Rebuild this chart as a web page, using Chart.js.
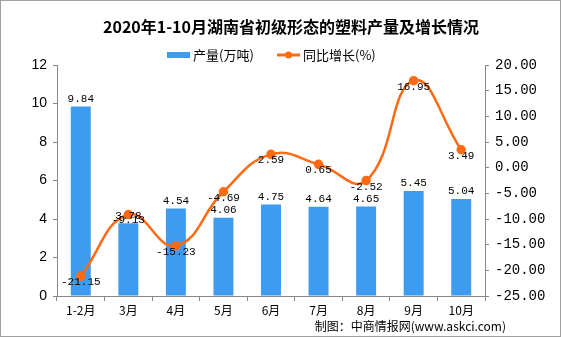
<!DOCTYPE html>
<html>
<head>
<meta charset="utf-8">
<script src="https://cdn.jsdelivr.net/npm/chart.js@4.4.0/dist/chart.umd.min.js"></script>
<style>
  html, body { margin: 0; padding: 0; background: #fff; }
  #wrap { position: relative; width: 561px; height: 337px; box-sizing: border-box; border: 1px solid #a0a0a0; }
  canvas { display: block; }
</style>
</head>
<body>
<div id="wrap"><canvas id="c" width="559" height="335"></canvas></div>
<script>
// ---------- DATA ----------
const months = ["1-2月","3月","4月","5月","6月","7月","8月","9月","10月"];
const output = [9.84, 3.78, 4.54, 4.06, 4.75, 4.64, 4.65, 5.45, 5.04];   // 产量(万吨)
const growth = [-21.15, -9.13, -15.23, -4.69, 2.59, 0.65, -2.52, 16.95, 3.49]; // 同比增长(%)

const BLUE = "#3d9cf0";
const ORANGE = "#ff6a13";
const TITLE = "2020年1-10月湖南省初级形态的塑料产量及增长情况";

// ---------- TITLE, LEGEND, LABELS ----------
const decor = {
  id: "decor",
  afterDatasetsDraw(chart){
    const ctx = chart.ctx;
    ctx.save();
    // title
    ctx.fillStyle = "#000";
    ctx.font = "bold 16px 'Noto Sans CJK SC'";
    ctx.textAlign = "center"; ctx.textBaseline = "middle";
    ctx.fillText(TITLE, 290, 26);

    // legend
    ctx.font = "13px 'Noto Sans CJK SC'";
    ctx.textAlign = "left";
    ctx.fillStyle = BLUE;
    ctx.fillRect(166, 51, 23, 6);
    ctx.fillStyle = "#000";
    ctx.fillText("产量(万吨)", 192, 54);
    ctx.strokeStyle = ORANGE; ctx.lineWidth = 3;
    ctx.beginPath(); ctx.moveTo(276, 54); ctx.lineTo(299, 54); ctx.stroke();
    ctx.fillStyle = ORANGE;
    ctx.beginPath(); ctx.arc(287.5, 54, 3.5, 0, Math.PI*2); ctx.fill();
    ctx.fillStyle = "#000";
    ctx.fillText("同比增长(%)", 302, 54);

    // bar value labels
    ctx.font = "11px 'Liberation Mono'";
    ctx.textAlign = "center"; ctx.textBaseline = "bottom";
    chart.getDatasetMeta(0).data.forEach((bar, i) => {
      ctx.fillText(output[i].toFixed(2), bar.x, bar.y - 2);
    });
    // line value labels
    ctx.textBaseline = "middle";
    chart.getDatasetMeta(1).data.forEach((pt, i) => {
      ctx.fillText(growth[i].toFixed(2), pt.x, pt.y + 6);
    });

    // source
    ctx.font = "12px 'Noto Sans CJK SC'";
    ctx.textAlign = "right";
    ctx.fillText("制图：中商情报网(www.askci.com)", 505, 325);
    ctx.restore();
  }
};

// ---------- CHART ----------
new Chart(document.getElementById("c"), {
  data: {
    labels: months,
    datasets: [
      { type: "bar", label: "产量(万吨)", data: output, backgroundColor: BLUE,
        yAxisID: "y", barPercentage: 0.84, categoryPercentage: 0.5, order: 2 },
      { type: "line", label: "同比增长(%)", data: growth, borderColor: ORANGE, backgroundColor: ORANGE,
        borderWidth: 2.5, pointRadius: 3.5, pointHoverRadius: 3.5, tension: 0.45,
        yAxisID: "y1", order: 1 }
    ]
  },
  options: {
    responsive: false,
    animation: false,
    layout: { padding: { top: 64, bottom: 0, left: 0, right: 0 } },
    plugins: { legend: { display: false }, tooltip: { enabled: false } },
    scales: {
      x: {
        grid: { display: true, drawOnChartArea: false, offset: true, tickLength: 5, color: "#888" },
        border: { color: "#888" },
        ticks: { color: "#000", font: { family: "'Noto Sans CJK SC'", size: 12 }, padding: 2 },
        afterFit(s){ s.height = 40; }
      },
      y: {
        position: "left", min: 0, max: 12,
        ticks: { stepSize: 2, color: "#000", font: { family: "'Liberation Sans'", size: 14 }, padding: 6 },
        grid: { display: true, drawOnChartArea: false, tickLength: 4, color: "#888" },
        border: { color: "#888" },
        afterFit(s){ s.width = 56; }
      },
      y1: {
        position: "right", min: -25, max: 20,
        ticks: { stepSize: 5, color: "#000", font: { family: "'Liberation Mono'", size: 14 }, padding: 6,
                 callback: v => v.toFixed(2) },
        grid: { display: true, drawOnChartArea: false, tickLength: 4, color: "#888" },
        border: { color: "#888" },
        afterFit(s){ s.width = 75; }
      }
    }
  },
  plugins: [decor]
});
</script>
</body>
</html>
